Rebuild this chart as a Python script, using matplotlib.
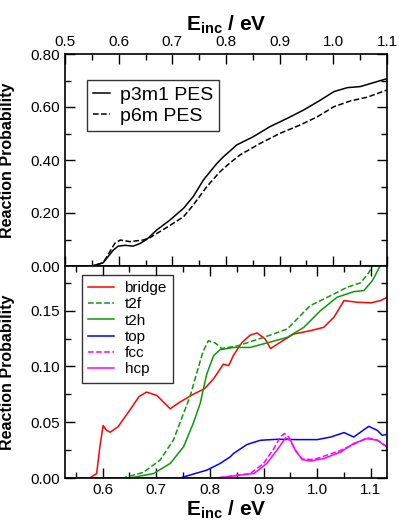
import matplotlib
matplotlib.use('Agg')
import matplotlib.pyplot as plt
from matplotlib.ticker import MultipleLocator, FormatStrFormatter

plt.rcParams['font.family'] = ['Liberation Sans', 'DejaVu Sans']
plt.rcParams['mathtext.fontset'] = 'custom'
plt.rcParams['mathtext.rm'] = 'Liberation Sans'
plt.rcParams['mathtext.bf'] = 'Liberation Sans:bold'

# top panel: total reaction probability for two PES fits
e_p3m1 = [0.50, 0.55, 0.571, 0.590, 0.599, 0.612, 0.627, 0.640, 0.652, 0.671, 0.696,
          0.721, 0.739, 0.758, 0.783, 0.795, 0.808, 0.820, 0.851, 0.882, 0.914,
          0.945, 0.976, 1.001, 1.026, 1.050, 1.075, 1.10]
p_p3m1 = [0.0, 0.0, 0.012, 0.060, 0.075, 0.078, 0.075, 0.085, 0.100, 0.136, 0.174,
          0.218, 0.262, 0.325, 0.387, 0.412, 0.435, 0.457, 0.488, 0.526, 0.557,
          0.589, 0.626, 0.658, 0.673, 0.677, 0.692, 0.707]
e_p6m = [0.50, 0.55, 0.571, 0.593, 0.603, 0.621, 0.646, 0.659, 0.690, 0.721, 0.739,
         0.764, 0.789, 0.808, 0.826, 0.864, 0.901, 0.938, 0.970, 1.001, 1.032,
         1.063, 1.10]
p_p6m = [0.0, 0.0, 0.012, 0.086, 0.098, 0.092, 0.098, 0.108, 0.146, 0.186, 0.230,
         0.299, 0.356, 0.390, 0.419, 0.463, 0.501, 0.532, 0.563, 0.601, 0.623,
         0.637, 0.664]

# bottom panel: site-resolved reaction probabilities
e_bridge = [0.53, 0.576, 0.589, 0.595, 0.601, 0.607, 0.614, 0.629, 0.651, 0.668, 0.682,
            0.701, 0.726, 0.744, 0.769, 0.790, 0.807, 0.825, 0.835, 0.844, 0.860,
            0.875, 0.888, 0.903, 0.913, 0.931, 0.956, 0.987, 1.012, 1.031, 1.050,
            1.075, 1.100, 1.118, 1.13]
p_bridge = [0.0, 0.0, 0.004, 0.028, 0.047, 0.043, 0.041, 0.046, 0.061, 0.073, 0.077,
            0.074, 0.062, 0.068, 0.075, 0.080, 0.089, 0.102, 0.1007, 0.110, 0.1216,
            0.128, 0.130, 0.1246, 0.116, 0.1216, 0.129, 0.132, 0.135, 0.144, 0.159,
            0.1575, 0.157, 0.159, 0.162]
e_t2f = [0.53, 0.638, 0.676, 0.707, 0.732, 0.751, 0.763, 0.776, 0.787, 0.797, 0.810,
         0.822, 0.853, 0.900, 0.944, 0.987, 1.019, 1.056, 1.081, 1.096, 1.106]
p_t2f = [0.0, 0.0, 0.005, 0.016, 0.034, 0.058, 0.073, 0.095, 0.113, 0.123, 0.121,
         0.116, 0.1186, 0.126, 0.1335, 0.1545, 0.162, 0.171, 0.175, 0.184, 0.193]
e_t2h = [0.53, 0.651, 0.695, 0.726, 0.751, 0.769, 0.782, 0.794, 0.807, 0.819, 0.844,
         0.875, 0.906, 0.944, 0.975, 1.006, 1.037, 1.068, 1.087, 1.103, 1.117]
p_t2h = [0.0, 0.0, 0.004, 0.013, 0.028, 0.049, 0.067, 0.093, 0.1097, 0.115, 0.117,
         0.117, 0.121, 0.126, 0.135, 0.150, 0.162, 0.167, 0.168, 0.177, 0.190]
e_top = [0.53, 0.744, 0.794, 0.819, 0.838, 0.844, 0.869, 0.894, 0.925, 0.963, 1.000,
         1.025, 1.050, 1.068, 1.081, 1.096, 1.112, 1.121, 1.13]
p_top = [0.0, 0.0, 0.007, 0.013, 0.019, 0.022, 0.030, 0.0338, 0.0347, 0.0344, 0.0344,
         0.0367, 0.0407, 0.0367, 0.0412, 0.0463, 0.0427, 0.0383, 0.039]
e_fcc = [0.53, 0.813, 0.875, 0.900, 0.919, 0.931, 0.939, 0.947, 0.959, 0.972, 0.994,
         1.044, 1.093, 1.112, 1.13]
p_fcc = [0.0, 0.0, 0.004, 0.013, 0.0263, 0.0367, 0.0398, 0.0367, 0.025, 0.017, 0.0165,
         0.0248, 0.036, 0.034, 0.028]
e_hcp = [0.53, 0.813, 0.882, 0.906, 0.925, 0.941, 0.950, 0.959, 0.972, 0.987, 1.012,
         1.044, 1.068, 1.093, 1.112, 1.13]
p_hcp = [0.0, 0.0, 0.004, 0.013, 0.025, 0.036, 0.0338, 0.025, 0.0165, 0.0152, 0.0174,
         0.0233, 0.031, 0.0353, 0.0338, 0.0278]

xlabel = r'$\mathbf{E_{inc}}$ / eV'
ylabel = 'Reaction Probability'


def style(ax):
    ax.tick_params(which='both', direction='in', top=True, right=True,
                   labelsize=11, width=1)
    ax.tick_params(which='major', length=7)
    ax.tick_params(which='minor', length=4)
    for s in ax.spines.values():
        s.set_linewidth(1.2)


def main():
    fig = plt.figure(figsize=(3.99, 5.21), dpi=100)
    l, w = 65 / 399, 322 / 399
    ax1 = fig.add_axes([l, 1 - 266 / 521, w, 212 / 521])
    ax2 = fig.add_axes([l, 1 - 478 / 521, w, 212 / 521])

    ax1.plot(e_p3m1, p_p3m1, 'k-', lw=1.1, label='p3m1 PES')
    ax1.plot(e_p6m, p_p6m, 'k--', lw=1.1, label='p6m PES')
    ax1.set_xlim(0.5, 1.1)
    ax1.set_ylim(0, 0.8)
    ax1.xaxis.set_major_locator(MultipleLocator(0.1))
    ax1.xaxis.set_minor_locator(MultipleLocator(0.05))
    ax1.yaxis.set_major_locator(MultipleLocator(0.2))
    ax1.yaxis.set_minor_locator(MultipleLocator(0.1))
    ax1.xaxis.set_major_formatter(FormatStrFormatter('%.1f'))
    ax1.yaxis.set_major_formatter(FormatStrFormatter('%.2f'))
    style(ax1)
    ax1.tick_params(labeltop=True, labelbottom=False)
    ax1.xaxis.set_label_position('top')
    ax1.set_xlabel(xlabel, fontsize=15, fontweight='bold', labelpad=3)
    ax1.set_ylabel(ylabel, fontsize=11.5, fontweight='bold')
    ax1.yaxis.set_label_coords(-0.155, 0.5)
    leg = ax1.legend(loc='upper left', bbox_to_anchor=(0.068, 0.877), borderaxespad=0,
                     fontsize=14, handlelength=0.9, handletextpad=0.5,
                     labelspacing=0.2, fancybox=False, edgecolor='black',
                     borderpad=0.3)
    leg.get_frame().set_linewidth(1.0)

    ax2.plot(e_bridge, p_bridge, '-', color='#ff0000', lw=1.1, label='bridge')
    ax2.plot(e_t2f, p_t2f, '--', color='#0a9a0a', lw=1.1, label='t2f')
    ax2.plot(e_t2h, p_t2h, '-', color='#0a9a0a', lw=1.1, label='t2h')
    ax2.plot(e_top, p_top, '-', color='#0000ff', lw=1.1, label='top')
    ax2.plot(e_fcc, p_fcc, '--', color='#ff00ff', lw=1.1, label='fcc')
    ax2.plot(e_hcp, p_hcp, '-', color='#ff00ff', lw=1.1, label='hcp')
    ax2.set_xlim(0.53, 1.13)
    ax2.set_ylim(0, 0.19)
    ax2.xaxis.set_major_locator(MultipleLocator(0.1))
    ax2.xaxis.set_minor_locator(MultipleLocator(0.05))
    ax2.yaxis.set_major_locator(MultipleLocator(0.05))
    ax2.yaxis.set_minor_locator(MultipleLocator(0.025))
    ax2.xaxis.set_major_formatter(FormatStrFormatter('%.1f'))
    ax2.yaxis.set_major_formatter(FormatStrFormatter('%.2f'))
    style(ax2)
    ax2.set_xlabel(xlabel, fontsize=15, fontweight='bold', labelpad=1)
    ax2.set_ylabel(ylabel, fontsize=11.5, fontweight='bold')
    ax2.yaxis.set_label_coords(-0.155, 0.5)
    leg = ax2.legend(loc='upper left', bbox_to_anchor=(0.052, 0.958), borderaxespad=0,
                     fontsize=11, handlelength=1.7, handletextpad=0.7,
                     labelspacing=0.15, fancybox=False, edgecolor='black',
                     borderpad=0.4)
    leg.get_frame().set_linewidth(1.0)

    fig.savefig('out.png', dpi=100)


if __name__ == '__main__':
    main()
